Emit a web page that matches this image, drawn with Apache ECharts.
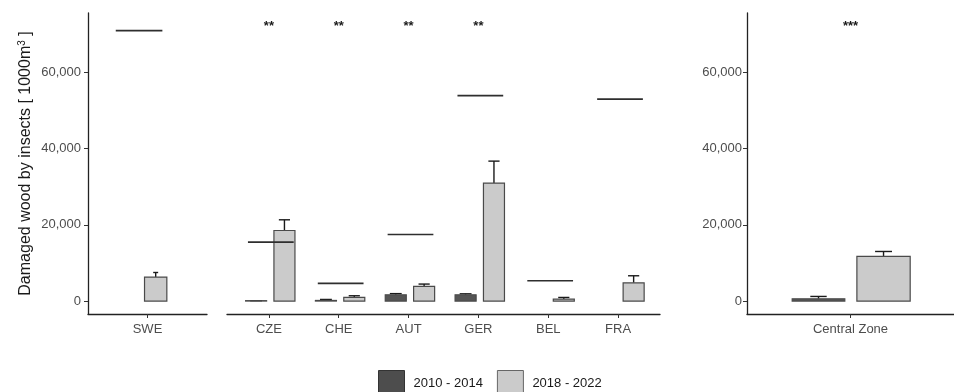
<!DOCTYPE html>
<html>
<head>
<meta charset="utf-8">
<script src="https://cdn.jsdelivr.net/npm/echarts@6/dist/echarts.min.js"></script>
<style>
  html, body { margin: 0; padding: 0; background: #fff; }
  #chart { width: 954px; height: 392px; }
</style>
</head>
<body>
<div id="chart"></div>
<script>
// ---- Data (1000 m³ of insect-damaged wood) ----
const sweCats  = ['SWE'];
const midCats  = ['CZE', 'CHE', 'AUT', 'GER', 'BEL', 'FRA'];
const zoneCats = ['Central Zone'];

// mean and upper error-bar end; null = no data for that period
const swe2010    = [null];
const swe2010Err = [null];
const swe2018    = [6300];
const swe2018Err = [7500];
const sweRef     = [71000];

const mid2010    = [100, 160, 1650, 1650, null, null];
const mid2010Err = [100, 420, 1950, 1900, null, null];
const mid2018    = [18530, 945, 3830, 30975, 525, 4800];
const mid2018Err = [21340, 1390, 4460, 36750, 945, 6640];
const midRef     = [15490, 4620, 17480, 53970, 5330, 53030];
const midSig     = ['**', '**', '**', '**', '', ''];

const zone2010    = [600];
const zone2010Err = [1210];
const zone2018    = [11710];
const zone2018Err = [13020];
const zoneSig     = ['***'];

const yTicks = [0, 20000, 40000, 60000];
const sigLevel = 72700;

// ---- Helpers ----
const FONT = '"Liberation Sans", Arial, sans-serif';
const FILL_A = '#555555', FILL_B = '#cbcbcb', EDGE = '#4a4a4a', INK = '#1a1a1a';

function positions(cats) { return cats.map((_, i) => i + 1); }

function barSeries(name, axis, cats, vals, errs, lo, hi, cap, fill) {
  const xs = positions(cats);
  const data = [];
  xs.forEach((p, i) => { if (vals[i] != null) data.push([p, vals[i], errs[i]]); });
  return {
    type: 'custom', name, xAxisIndex: axis, yAxisIndex: axis,
    itemStyle: { color: fill, borderColor: EDGE },
    encode: { x: 0, y: [1, 2] },
    data,
    renderItem(params, api) {
      const x = api.value(0), v = api.value(1), e = api.value(2);
      const a = api.coord([x + lo, 0]);
      const b = api.coord([x + hi, v]);
      const cx = (a[0] + b[0]) / 2;
      const half = api.coord([x + cap / 2, 0])[0] - api.coord([x, 0])[0];
      const et = api.coord([x, e])[1];
      return {
        type: 'group',
        children: [
          { type: 'line', shape: { x1: cx, y1: b[1], x2: cx, y2: et },
            style: { stroke: INK, lineWidth: 1.4 } },
          { type: 'line', shape: { x1: cx - half, y1: et, x2: cx + half, y2: et },
            style: { stroke: INK, lineWidth: 1.4 } },
          { type: 'rect',
            shape: { x: a[0], y: b[1], width: b[0] - a[0], height: a[1] - b[1] },
            style: { fill, stroke: EDGE, lineWidth: 1.2 } }
        ]
      };
    }
  };
}

function refSeries(axis, cats, vals, lo, hi) {
  const data = positions(cats).map((p, i) => [p, vals[i]]);
  return {
    type: 'custom', xAxisIndex: axis, yAxisIndex: axis, silent: true,
    encode: { x: 0, y: 1 }, data,
    renderItem(params, api) {
      const x = api.value(0), v = api.value(1);
      const a = api.coord([x + lo, v]), b = api.coord([x + hi, v]);
      return { type: 'line', shape: { x1: a[0], y1: a[1], x2: b[0], y2: b[1] },
               style: { stroke: '#2e2e2e', lineWidth: 1.7 } };
    }
  };
}

function sigSeries(axis, cats, marks) {
  const data = positions(cats).map((p, i) => [p, sigLevel, i]);
  return {
    type: 'custom', xAxisIndex: axis, yAxisIndex: axis, silent: true,
    encode: { x: 0, y: 1 }, data,
    renderItem(params, api) {
      const pt = api.coord([api.value(0), api.value(1)]);
      return { type: 'text', x: pt[0], y: pt[1] + 2,
               style: { text: marks[api.value(2)], fill: INK, font: 'bold 13px ' + FONT,
                        align: 'center', verticalAlign: 'middle' } };
    }
  };
}

function xAxis(grid, cats) {
  const xs = positions(cats);
  return {
    type: 'value', gridIndex: grid, min: 0.4, max: cats.length + 0.6,
    splitLine: { show: false },
    axisLine: { show: true, onZero: false, lineStyle: { color: '#222', width: 1.3 } },
    axisTick: { show: true, customValues: xs, length: 4, lineStyle: { color: '#333' } },
    axisLabel: { customValues: xs, formatter: v => cats[Math.round(v) - 1] || '',
                 color: '#4d4d4d', fontSize: 13, fontFamily: FONT, margin: 9 }
  };
}

function yAxis(grid, showAxis, margin) {
  return {
    type: 'value', gridIndex: grid, min: -3400, max: 75650,
    splitLine: { show: false },
    axisLine: { show: showAxis, onZero: false, lineStyle: { color: '#222', width: 1.3 } },
    axisTick: { show: showAxis, customValues: yTicks, length: 4, lineStyle: { color: '#333' } },
    axisLabel: { show: showAxis, customValues: yTicks, margin,
                 formatter: v => v.toLocaleString('en-US'),
                 color: '#4d4d4d', fontSize: 13, fontFamily: FONT }
  };
}

const chart = echarts.init(document.getElementById('chart'), null, { renderer: 'canvas' });

const yA = yAxis(0, true, 7);
yA.name = 'Damaged wood by insects [ 1000m{sup|3} ]';
yA.nameLocation = 'middle';
yA.nameRotate = 90;
yA.nameGap = 53;
yA.nameTextStyle = {
  color: INK, fontSize: 16, fontFamily: FONT,
  rich: { sup: { fontSize: 10, fontFamily: FONT, color: INK, verticalAlign: 'top', lineHeight: 18 } }
};

chart.setOption({
  animation: false,
  backgroundColor: '#ffffff',
  grid: [
    { left: 88, top: 13, width: 119, height: 301 },
    { left: 227, top: 13, width: 433, height: 301 },
    { left: 747, top: 13, width: 217, height: 301 }
  ],
  xAxis: [xAxis(0, sweCats), xAxis(1, midCats), xAxis(2, zoneCats)],
  yAxis: [yA, yAxis(1, false, 7), yAxis(2, true, 5)],
  legend: {
    left: 378, top: 370, padding: 0, itemWidth: 26, itemHeight: 26, itemGap: 14, icon: 'rect',
    textStyle: { color: INK, fontSize: 13, fontFamily: FONT, padding: [0, 0, 6, 4] },
    data: [
      { name: '2010 - 2014', itemStyle: { color: '#4d4d4d', borderColor: '#333', borderWidth: 1 } },
      { name: '2018 - 2022', itemStyle: { color: FILL_B, borderColor: '#666', borderWidth: 1 } }
    ]
  },
  series: [
    refSeries(0, sweCats, sweRef, -0.32, 0.15),
    barSeries('2010 - 2014', 0, sweCats, swe2010, swe2010Err, -0.26, -0.035, 0.05, FILL_A),
    barSeries('2018 - 2022', 0, sweCats, swe2018, swe2018Err, -0.03, 0.195, 0.05, FILL_B),

    barSeries('2010 - 2014', 1, midCats, mid2010, mid2010Err, -0.334, -0.033, 0.17, FILL_A),
    barSeries('2018 - 2022', 1, midCats, mid2018, mid2018Err, 0.072, 0.373, 0.16, FILL_B),
    refSeries(1, midCats, midRef, -0.30, 0.355),
    sigSeries(1, midCats, midSig),

    barSeries('2010 - 2014', 2, zoneCats, zone2010, zone2010Err, -0.338, -0.033, 0.095, FILL_A),
    barSeries('2018 - 2022', 2, zoneCats, zone2018, zone2018Err, 0.037, 0.346, 0.098, FILL_B),
    sigSeries(2, zoneCats, zoneSig)
  ]
});
</script>
</body>
</html>
